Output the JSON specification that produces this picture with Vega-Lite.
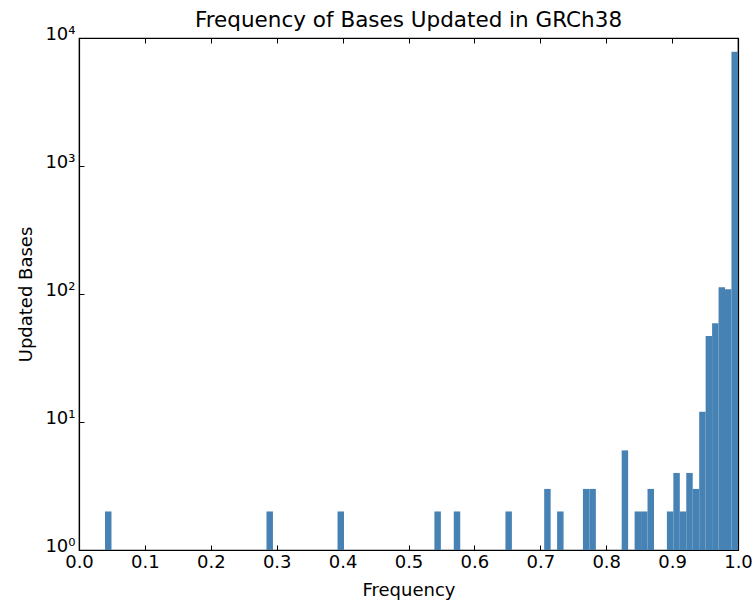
{
  "$schema": "https://vega.github.io/schema/vega-lite/v6.json",
  "autosize": {"type": "none"},
  "padding": {"left": 79, "top": 38, "right": 14, "bottom": 50},
  "width": 659,
  "height": 512,
  "background": "white",
  "title": {"text": "Frequency of Bases Updated in GRCh38", "font": "DejaVu Sans", "fontSize": 21.5, "fontWeight": "normal", "color": "#000000", "offset": -6},
  "config": {
    "view": {"stroke": "#000000", "strokeWidth": 1.2},
    "axis": {
      "domainColor": "#000000", "domainWidth": 1.2, "tickColor": "#000000", "tickWidth": 1,
      "labelColor": "#000000", "labelFont": "DejaVu Sans", "labelFontSize": 18,
      "titleColor": "#000000", "titleFont": "DejaVu Sans", "titleFontSize": 18, "titleFontWeight": "normal",
      "grid": false
    }
  },
  "data": {"values": [
    {"start": 0.0395, "end": 0.0493, "count": 2},
    {"start": 0.2845, "end": 0.2943, "count": 2},
    {"start": 0.3923, "end": 0.4021, "count": 2},
    {"start": 0.5393, "end": 0.5491, "count": 2},
    {"start": 0.5687, "end": 0.5785, "count": 2},
    {"start": 0.6471, "end": 0.6569, "count": 2},
    {"start": 0.7059, "end": 0.7157, "count": 3},
    {"start": 0.7255, "end": 0.7353, "count": 2},
    {"start": 0.7647, "end": 0.7745, "count": 3},
    {"start": 0.7745, "end": 0.7843, "count": 3},
    {"start": 0.8235, "end": 0.8333, "count": 6},
    {"start": 0.8431, "end": 0.8529, "count": 2},
    {"start": 0.8529, "end": 0.8627, "count": 2},
    {"start": 0.8627, "end": 0.8725, "count": 3},
    {"start": 0.8921, "end": 0.9019, "count": 2},
    {"start": 0.9019, "end": 0.9117, "count": 4},
    {"start": 0.9117, "end": 0.9215, "count": 2},
    {"start": 0.9215, "end": 0.9313, "count": 4},
    {"start": 0.9313, "end": 0.9411, "count": 3},
    {"start": 0.9411, "end": 0.9509, "count": 12},
    {"start": 0.9509, "end": 0.9607, "count": 47},
    {"start": 0.9607, "end": 0.9705, "count": 59},
    {"start": 0.9705, "end": 0.9803, "count": 113},
    {"start": 0.9803, "end": 0.9901, "count": 109},
    {"start": 0.9901, "end": 1.0, "count": 7815}
  ]},
  "layer": [
    {
      "mark": {"type": "bar", "color": "#4682b4", "strokeWidth": 0},
      "encoding": {
        "x": {"field": "start", "type": "quantitative", "scale": {"domain": [0, 1], "nice": false, "zero": false},
              "axis": {"orient": "bottom", "values": [0, 0.1, 0.2, 0.3, 0.4, 0.5, 0.6, 0.7, 0.8, 0.9, 1.0], "format": ".1f", "tickSize": -5, "labelPadding": 8, "title": "Frequency", "titlePadding": 10, "labelFlush": false}},
        "x2": {"field": "end"},
        "y": {"field": "count", "type": "quantitative", "scale": {"type": "log", "domain": [1, 10000], "nice": false},
              "axis": {"orient": "left", "values": [1, 10, 100, 1000, 10000], "tickSize": -5, "labelPadding": 9, "labelOffset": -4, "title": "Updated Bases", "titlePadding": 9, "labelFlush": false,
                       "labelExpr": "'10' + ['⁰','¹','²','³','⁴'][round(log(datum.value)/LN10)]"}},
        "y2": {"datum": 1}
      }
    },
    {
      "mark": {"type": "bar", "opacity": 0},
      "encoding": {
        "x": {"field": "start", "type": "quantitative",
              "axis": {"orient": "top", "values": [0, 0.1, 0.2, 0.3, 0.4, 0.5, 0.6, 0.7, 0.8, 0.9, 1.0], "tickSize": -5, "labels": false, "title": null}},
        "x2": {"field": "end"},
        "y": {"field": "count", "type": "quantitative",
              "axis": {"orient": "right", "values": [1, 10, 100, 1000, 10000], "tickSize": -5, "labels": false, "title": null}},
        "y2": {"datum": 1}
      }
    }
  ],
  "resolve": {"axis": {"x": "independent", "y": "independent"}}
}
